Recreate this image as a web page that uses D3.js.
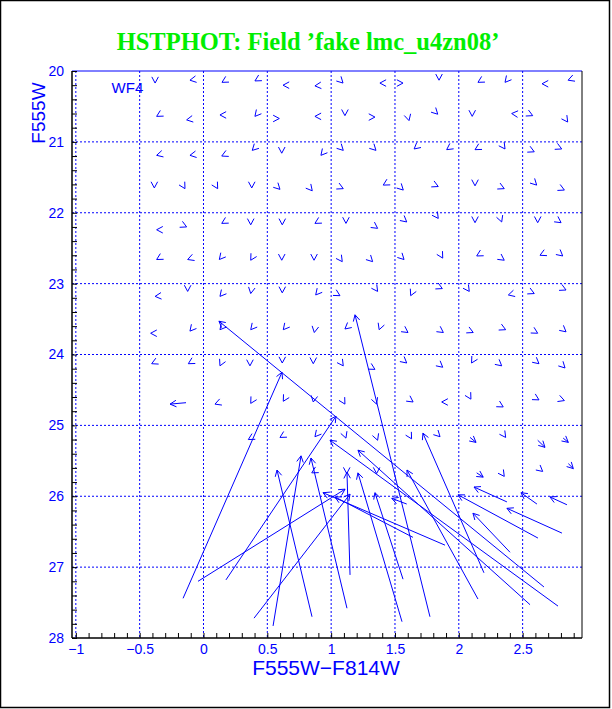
<!DOCTYPE html>
<html>
<head>
<meta charset="utf-8">
<script src="https://cdn.jsdelivr.net/npm/d3@7"></script>
<style>
body { margin: 0; background: #fff; }
text { font-family: "Liberation Sans", Arial, sans-serif; }
</style>
</head>
<body>
<div id="chart"></div>
<script>
// tick values
var xTicks = [-1, -0.5, 0, 0.5, 1, 1.5, 2, 2.5];
var yTicks = [20, 21, 22, 23, 24, 25, 26, 27, 28];
var yGrid = [21, 22, 23, 24, 25, 26, 27];

// short vectors: position of the head (colour, mag) and the way it points (deg, screen)
var smallX = [
  -0.379,-0.106,0.145,0.403,0.623,0.873,1.093,1.382,1.563,1.845,2.150,2.362,2.652,2.856,
  -0.367,-0.132,0.129,0.403,0.594,0.873,1.108,1.343,1.610,1.835,2.105,2.414,2.579,2.853,
  -0.367,-0.106,0.143,0.382,0.613,0.920,1.095,1.351,1.650,1.905,2.127,2.362,2.591,2.806,
  -0.385,-0.145,0.111,0.378,0.599,0.852,1.095,1.408,1.565,1.839,2.127,2.356,2.610,2.827,
  -0.367,-0.132,0.143,0.370,0.617,0.873,1.116,1.364,1.592,1.839,2.127,2.336,2.618,2.801,
  -0.367,-0.124,0.124,0.370,0.613,0.866,1.087,1.325,1.571,1.874,2.140,2.356,2.636,2.814,
  -0.379,-0.124,0.129,0.370,0.617,0.879,1.069,1.364,1.623,1.871,2.082,2.388,2.591,2.840,
  -0.414,-0.106,0.129,0.370,0.625,0.868,1.108,1.376,1.602,1.879,2.113,2.367,2.618,2.840,
  -0.406,-0.119,0.129,0.364,0.617,0.860,1.095,1.343,1.592,1.874,2.100,2.336,2.628,2.832,
  0.090,0.370,0.625,0.860,1.108,1.356,1.642,1.866,2.095,2.348,2.628,2.827,
  0.351,0.599,0.873,1.116,1.364,1.630,1.853,2.367,
  0.848,1.122,1.356,2.356,2.657
];
var smallY = [
  20.17,20.13,20.16,20.14,20.20,20.21,20.17,20.17,20.17,20.13,20.16,20.16,20.18,20.13,
  20.64,20.69,20.62,20.64,20.67,20.64,20.63,20.65,20.70,20.61,20.64,20.60,20.63,20.72,
  21.19,21.19,21.20,21.12,21.16,21.19,21.12,21.12,21.10,21.11,21.11,21.10,21.14,21.10,
  21.65,21.66,21.66,21.65,21.67,21.69,21.66,21.61,21.68,21.63,21.62,21.66,21.61,21.68,
  22.24,22.20,22.15,22.17,22.17,22.15,22.15,22.22,22.13,22.08,22.14,22.13,22.14,22.14,
  22.66,22.66,22.66,22.67,22.67,22.67,22.69,22.69,22.66,22.64,22.61,22.67,22.60,22.61,
  23.18,23.11,23.18,23.14,23.13,23.16,23.17,23.11,23.17,23.07,23.11,23.16,23.14,23.09,
  23.70,23.67,23.65,23.65,23.65,23.69,23.64,23.65,23.69,23.69,23.69,23.65,23.70,23.68,
  24.13,24.13,24.16,24.16,24.12,24.13,24.16,24.21,24.12,24.18,24.12,24.16,24.13,24.19,
  24.70,24.69,24.66,24.67,24.70,24.70,24.67,24.67,24.63,24.74,24.64,24.65,
  25.20,25.17,25.16,25.18,25.21,25.19,25.16,25.17,
  25.67,25.68,25.68,25.72,25.65
];
var smallDir = [
  90,170,150,150,180,175,45,180,0,90,150,130,180,160,
  150,170,180,130,0,180,90,0,75,45,90,185,25,55,
  165,170,155,135,90,130,45,45,140,145,150,55,25,25,
  90,60,60,90,45,50,25,150,45,25,90,25,45,25,
  180,25,150,90,90,150,90,35,40,55,90,70,90,35,
  150,160,130,120,90,90,55,45,45,60,150,35,155,40,
  175,90,130,100,90,130,30,55,115,25,55,165,25,25,
  180,130,130,130,130,100,140,110,35,35,25,25,30,40,
  155,150,115,90,90,90,55,30,40,40,120,40,40,45,
  160,120,120,100,60,70,35,180,60,30,30,20,
  150,150,130,70,70,60,45,55,
  150,90,90,55,40
];

// long vectors: tail (x0, y0) -> head (x1, y1)
var longX0 = [-0.160, 0.176, 2.667, 1.124, 0.396, 0.545, 0.850, 1.148, 1.774, 1.563, 1.555, -0.043,
  2.197, 2.150, 2.558, 2.777, 2.401, 2.620, 2.808, 2.847, 2.612, 2.377, 1.892, 1.641, -0.137,
  2.088, 2.618, 2.818, 2.140, 2.858, 1.592];
var longY0 = [27.44, 27.18, 27.28, 27.58, 27.72, 27.83, 27.70, 27.11, 27.70, 27.17, 27.77, 27.20,
  27.08, 27.45, 27.53, 27.55, 26.79, 26.59, 26.52, 26.12, 26.11, 26.08, 26.69, 26.58, 24.68,
  25.17, 25.21, 25.18, 25.67, 25.54, 26.11];
var longX1 = [0.615, 1.038, 0.121, 0.842, 1.148, 0.764, 0.576, 1.124, 1.187, 1.343, 1.210, 1.109,
  1.719, 1.594, 1.210, 0.991, 2.111, 1.994, 2.377, 2.714, 2.487, 2.119, 0.936, 1.030, -0.262,
  2.135, 2.675, 2.858, 2.191, 2.897, 1.475];
var longY1 = [24.25, 24.87, 23.53, 25.46, 25.97, 25.43, 25.63, 25.66, 23.44, 25.95, 25.67, 25.90,
  25.11, 25.63, 25.35, 25.21, 26.24, 25.98, 26.17, 26.01, 25.95, 25.87, 25.95, 26.01, 24.70,
  25.24, 25.31, 25.24, 25.73, 25.61, 26.03];

var margin = {top: 71, right: 30, bottom: 71, left: 72},
    width = 612 - margin.left - margin.right,
    height = 709 - margin.top - margin.bottom;

var blue = '#0000ff';

var svg = d3.select('#chart').append('svg')
    .attr('width', 612)
    .attr('height', 709);

svg.append('rect')
    .attr('x', 0.5).attr('y', 0.5)
    .attr('width', 609).attr('height', 707)
    .attr('fill', 'none').attr('stroke', '#000').attr('stroke-width', 1.5);

svg.append('text')
    .attr('x', 308).attr('y', 50)
    .attr('text-anchor', 'middle')
    .style('font-family', '"Liberation Serif", "Times New Roman", serif')
    .style('font-weight', 'bold')
    .style('font-size', '24.5px')
    .attr('fill', '#00ee00')
    .text('HSTPHOT: Field \u2019fake lmc_u4zn08\u2019');

var g = svg.append('g')
    .attr('transform', 'translate(' + margin.left + ',' + margin.top + ')');

var x = d3.scaleLinear().domain([-1.03, 2.965]).range([0, width]);
var y = d3.scaleLinear().domain([20, 28]).range([0, height]);

// dotted grid
g.selectAll('.vgrid').data(xTicks).enter().append('line')
    .attr('x1', function(d){ return x(d); }).attr('x2', function(d){ return x(d); })
    .attr('y1', 0).attr('y2', height)
    .attr('stroke', blue).attr('stroke-dasharray', '2,2');
g.selectAll('.hgrid').data(yGrid).enter().append('line')
    .attr('y1', function(d){ return y(d); }).attr('y2', function(d){ return y(d); })
    .attr('x1', 0).attr('x2', width)
    .attr('stroke', blue).attr('stroke-dasharray', '2,2');

// frame
g.append('line').attr('x1', 0).attr('x2', width).attr('y1', 0).attr('y2', 0).attr('stroke', blue);
g.append('line').attr('x1', width).attr('x2', width).attr('y1', 0).attr('y2', height).attr('stroke', '#000');

// minor ticks
var xMinor = d3.range(-10, 30).map(function(i){ return i / 10; });
var yMinor = d3.range(0, 41).map(function(i){ return 20 + i / 5; });

var xAxisTicks = g.append('g').attr('transform', 'translate(0,' + height + ')')
    .call(d3.axisBottom(x).tickValues(xMinor).tickSize(-5).tickFormat(''));
xAxisTicks.select('.domain').attr('d', 'M0,0H' + width).attr('stroke', '#000').attr('stroke-width', 1.5);
xAxisTicks.selectAll('line').attr('stroke', '#000');

var yAxisTicks = g.append('g')
    .call(d3.axisLeft(y).tickValues(yMinor).tickSize(-5).tickFormat(''));
yAxisTicks.select('.domain').attr('d', 'M0,0V' + height).attr('stroke', '#000').attr('stroke-width', 1.5);
yAxisTicks.selectAll('line').attr('stroke', '#000');

// tick labels
var xLab = g.append('g').attr('transform', 'translate(0,' + height + ')')
    .call(d3.axisBottom(x).tickValues(xTicks).tickSize(0).tickPadding(6).tickFormat(d3.format('~g')));
xLab.select('.domain').remove();
xLab.selectAll('text').attr('fill', blue).style('font-size', '14px')
    .style('font-family', '"Liberation Sans", Arial, sans-serif');

var yLab = g.append('g')
    .call(d3.axisLeft(y).tickValues(yTicks).tickSize(0).tickPadding(8).tickFormat(d3.format('d')));
yLab.select('.domain').remove();
yLab.selectAll('text').attr('fill', blue).style('font-size', '14px')
    .style('font-family', '"Liberation Sans", Arial, sans-serif');

// axis titles
svg.append('text')
    .attr('x', 326).attr('y', 675)
    .attr('text-anchor', 'middle')
    .attr('fill', blue)
    .style('font-size', '21px')
    .text('F555W\u2212F814W');

svg.append('text')
    .attr('transform', 'translate(45,113) rotate(-90)')
    .attr('text-anchor', 'middle')
    .attr('fill', blue)
    .style('font-size', '19px')
    .text('F555W');

g.append('text')
    .attr('x', x(-0.72)).attr('y', y(20.31))
    .attr('fill', blue)
    .style('font-size', '15px')
    .text('WF4');

// arrow heads
var headLen = 7, headAng = 28 * Math.PI / 180;
function headPath(px, py, ang) {
  var a1 = ang + Math.PI - headAng, a2 = ang + Math.PI + headAng;
  return 'M' + (px + headLen * Math.cos(a1)) + ',' + (py + headLen * Math.sin(a1)) +
         'L' + px + ',' + py +
         'L' + (px + headLen * Math.cos(a2)) + ',' + (py + headLen * Math.sin(a2));
}

var vec = g.append('g').attr('fill', 'none').attr('stroke', blue).attr('stroke-width', 1);

vec.selectAll('.small').data(smallX).enter().append('path')
    .attr('d', function(d, i){
      return headPath(x(d), y(smallY[i]), smallDir[i] * Math.PI / 180);
    });

vec.selectAll('.long').data(longX0).enter().append('path')
    .attr('d', function(d, i){
      var px0 = x(d), py0 = y(longY0[i]), px1 = x(longX1[i]), py1 = y(longY1[i]);
      var ang = Math.atan2(py1 - py0, px1 - px0);
      return 'M' + px0 + ',' + py0 + 'L' + px1 + ',' + py1 + headPath(px1, py1, ang);
    });
</script>
</body>
</html>
